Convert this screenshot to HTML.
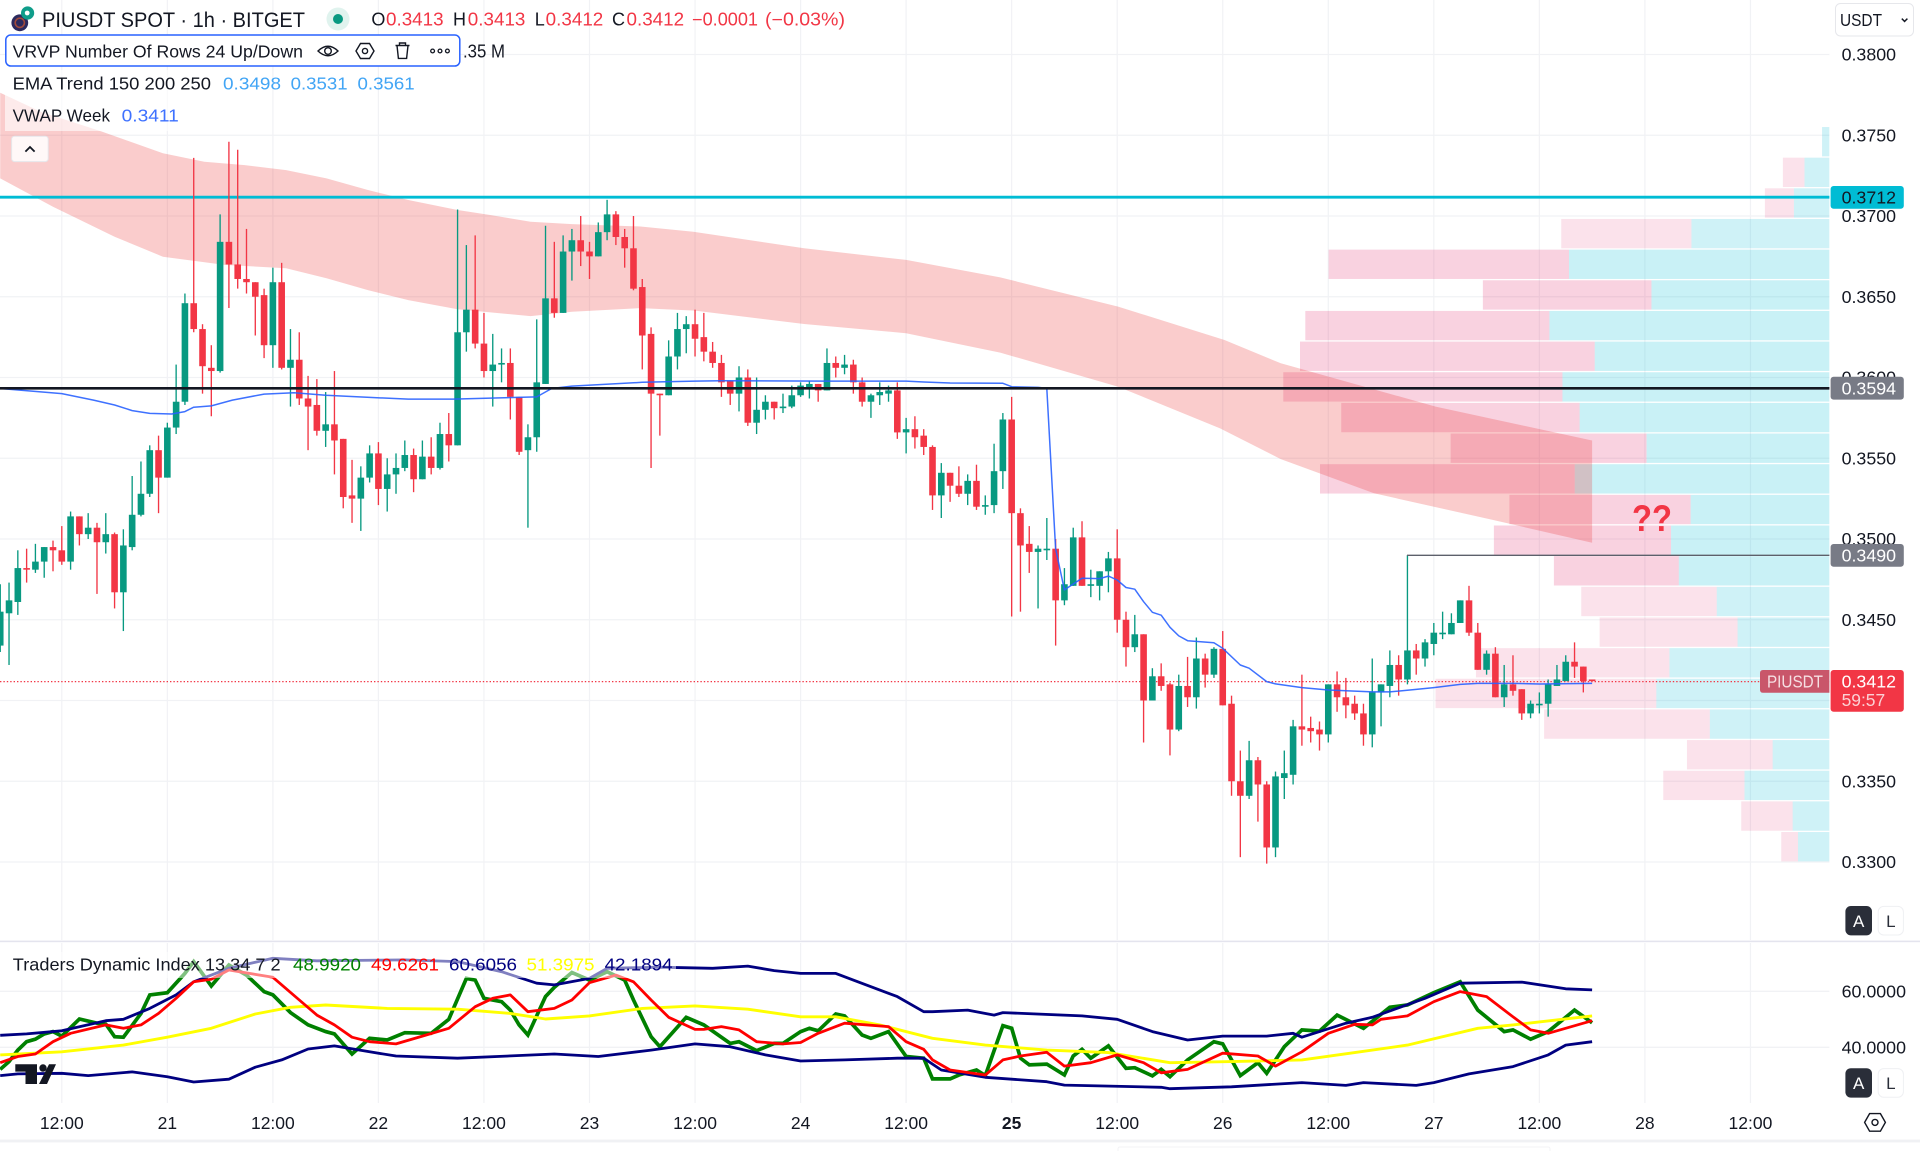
<!DOCTYPE html>
<html lang="en">
<head>
<meta charset="utf-8">
<title>PIUSDT SPOT 1h BITGET chart</title>
<style>
html,body{margin:0;padding:0;background:#fff;width:1920px;height:1151px;overflow:hidden}
svg{display:block;font-family:"Liberation Sans",sans-serif}
text{white-space:pre}
</style>
</head>
<body>
<svg id="chart" xmlns="http://www.w3.org/2000/svg" width="1920" height="1151" viewBox="0 0 1920 1151">
  <defs>
    <clipPath id="mainClip"><rect x="0" y="0" width="1829.4" height="941"/></clipPath>
    <clipPath id="tdiClip"><rect x="0" y="943" width="1829.4" height="160"/></clipPath>
  </defs>
  <rect x="0" y="0" width="1920" height="1151" fill="#ffffff"/>
  <g id="gridLayer"></g>
  <g id="vpLayer" clip-path="url(#mainClip)"></g>
  <g id="bandLayer" clip-path="url(#mainClip)"></g>
  <line x1="0" x2="1829.4" y1="197.2" y2="197.2" stroke="#00bcd4" stroke-width="2.9"/>
  <line x1="0" x2="1829.4" y1="681.6" y2="681.6" stroke="#f23645" stroke-width="1.2" stroke-dasharray="1.4 2"/>
  <g id="candleLayer" clip-path="url(#mainClip)"></g>
  <g id="vwapLayer" clip-path="url(#mainClip)"></g>
  <line x1="0" x2="1829.4" y1="388.3" y2="388.3" stroke="#131722" stroke-width="2.6"/>
  <line x1="1407" x2="1829.4" y1="555.3" y2="555.3" stroke="#5d606b" stroke-width="1.4"/>
  <text x="1632" y="531" font-size="37" font-weight="700" fill="#f23645" textLength="40" lengthAdjust="spacingAndGlyphs">??</text>

  <!-- Legend -->
  <rect x="5" y="70" width="180" height="61" fill="#ffffff" fill-opacity="0.6"/>
  <g>
    <circle cx="19.8" cy="22.8" r="8.4" fill="#2c2a5e"/>
    <circle cx="19.8" cy="22.8" r="4.6" fill="none" stroke="#a04a3c" stroke-width="1.6"/>
    <circle cx="27.6" cy="13" r="6.6" fill="#0f9d8a"/>
    <circle cx="27.2" cy="13" r="2.4" fill="#ffffff"/>
  </g>
  <text x="42" y="27" font-size="21" fill="#131722" textLength="263" lengthAdjust="spacingAndGlyphs">PIUSDT SPOT · 1h · BITGET</text>
  <ellipse cx="338" cy="19" rx="11.5" ry="11.5" fill="#e0f3ee"/>
  <circle cx="338" cy="19" r="5" fill="#089981"/>
  <g font-size="18">
    <text x="371.4" y="25.6" fill="#131722">O</text>
    <text x="386" y="25.6" fill="#f23645" textLength="57.6" lengthAdjust="spacingAndGlyphs">0.3413</text>
    <text x="453" y="25.6" fill="#131722">H</text>
    <text x="467.8" y="25.6" fill="#f23645" textLength="57.6" lengthAdjust="spacingAndGlyphs">0.3413</text>
    <text x="534.7" y="25.6" fill="#131722">L</text>
    <text x="545.7" y="25.6" fill="#f23645" textLength="57.6" lengthAdjust="spacingAndGlyphs">0.3412</text>
    <text x="612" y="25.6" fill="#131722">C</text>
    <text x="626.5" y="25.6" fill="#f23645" textLength="57.6" lengthAdjust="spacingAndGlyphs">0.3412</text>
    <text x="692" y="25.6" fill="#f23645" textLength="66" lengthAdjust="spacingAndGlyphs">−0.0001</text>
    <text x="765" y="25.6" fill="#f23645" textLength="80" lengthAdjust="spacingAndGlyphs">(−0.03%)</text>
  </g>
  <rect x="5.8" y="35" width="454" height="31" rx="5" fill="#ffffff" stroke="#2962ff" stroke-width="1.5"/>
  <text x="12.6" y="57.4" font-size="17.5" fill="#131722" textLength="290.4" lengthAdjust="spacingAndGlyphs">VRVP Number Of Rows 24 Up/Down</text>
  <g fill="none" stroke="#131722" stroke-width="1.4">
    <path d="M318 51 Q328 41.5 338 51 Q328 60.5 318 51Z"/><circle cx="328" cy="51" r="3.3"/>
  </g>
  <g fill="none" stroke="#131722" stroke-width="1.4">
    <path d="M360.5 43.5 H369.5 L374 51 L369.5 58.5 H360.5 L356 51Z"/><circle cx="365" cy="51" r="2.6"/>
  </g>
  <g fill="none" stroke="#131722" stroke-width="1.4">
    <path d="M395.5 45.5 H409.5 M399.5 45.5 V43 H405.5 V45.5 M397 45.5 L398.4 58.4 H406.6 L408 45.5"/>
  </g>
  <g fill="none" stroke="#131722" stroke-width="1.3">
    <circle cx="432.6" cy="51" r="1.9"/><circle cx="440" cy="51" r="1.9"/><circle cx="447.4" cy="51" r="1.9"/>
  </g>
  <text x="463" y="57.4" font-size="18" fill="#131722" textLength="42" lengthAdjust="spacingAndGlyphs">.35 M</text>
  <text x="12.6" y="89.4" font-size="17.5" fill="#131722" textLength="198.4" lengthAdjust="spacingAndGlyphs">EMA Trend 150 200 250</text>
  <text x="223" y="89.4" font-size="17.5" fill="#42a5f5" textLength="58" lengthAdjust="spacingAndGlyphs">0.3498</text>
  <text x="290.6" y="89.4" font-size="17.5" fill="#42a5f5" textLength="57" lengthAdjust="spacingAndGlyphs">0.3531</text>
  <text x="357.5" y="89.4" font-size="17.5" fill="#42a5f5" textLength="57.2" lengthAdjust="spacingAndGlyphs">0.3561</text>
  <text x="12.6" y="121.4" font-size="17.5" fill="#131722" textLength="97.4" lengthAdjust="spacingAndGlyphs">VWAP Week</text>
  <text x="121.6" y="121.4" font-size="17.5" fill="#2962ff" fill-opacity="0.9" textLength="57.2" lengthAdjust="spacingAndGlyphs">0.3411</text>
  <g>
    <rect x="11.6" y="136.2" width="36.6" height="25.4" rx="3" fill="#ffffff" fill-opacity="0.85" stroke="#e6e6ea" stroke-width="1"/>
    <path d="M25.4 151.6 L30 147 L34.6 151.6" fill="none" stroke="#131722" stroke-width="1.8"/>
  </g>

  <!-- Price axis -->
  <g id="priceAxis"></g>
  <g>
    <rect x="1835.5" y="3.5" width="78" height="32.5" rx="5" fill="#ffffff" stroke="#e6e7eb" stroke-width="1"/>
    <text x="1840" y="26" font-size="17.5" fill="#131722" textLength="42" lengthAdjust="spacingAndGlyphs">USDT</text>
    <path d="M1901.8 18.6 L1904.6 21.4 L1907.4 18.6" fill="none" stroke="#131722" stroke-width="1.5"/>
  </g>
  <g>
    <rect x="1830.6" y="186" width="73.2" height="22.8" rx="3" fill="#00bcd4"/>
    <text x="1841.6" y="203.6" font-size="17.5" fill="#131722" textLength="54.4" lengthAdjust="spacingAndGlyphs">0.3712</text>
  </g>
  <g>
    <rect x="1830.6" y="376.8" width="73.2" height="22.8" rx="3" fill="#787b86"/>
    <text x="1841.6" y="394.4" font-size="17.5" fill="#ffffff" textLength="54.4" lengthAdjust="spacingAndGlyphs">0.3594</text>
  </g>
  <g>
    <rect x="1830.6" y="544" width="73.2" height="22.8" rx="3" fill="#787b86"/>
    <text x="1841.6" y="561.6" font-size="17.5" fill="#ffffff" textLength="54.4" lengthAdjust="spacingAndGlyphs">0.3490</text>
  </g>
  <g>
    <path d="M1829.4 670 H1763 Q1760 670 1760 673 V689.8 Q1760 692.8 1763 692.8 H1829.4Z" fill="#c9566a"/>
    <text x="1767" y="687.6" font-size="17.5" fill="#f6dfe3" textLength="56" lengthAdjust="spacingAndGlyphs">PIUSDT</text>
  </g>
  <g>
    <rect x="1830.6" y="670" width="73.2" height="41.8" rx="3" fill="#f23645"/>
    <text x="1841.6" y="687.6" font-size="17.5" fill="#ffffff" textLength="54.4" lengthAdjust="spacingAndGlyphs">0.3412</text>
    <text x="1841.6" y="706" font-size="17.5" fill="#fbd0d4" textLength="43.6" lengthAdjust="spacingAndGlyphs">59:57</text>
  </g>
  <g>
    <rect x="1845.4" y="906" width="26.6" height="29.4" rx="5.5" fill="#2a2e39"/>
    <text x="1858.7" y="926.8" font-size="17" fill="#ffffff" text-anchor="middle">A</text>
  </g>
  <g>
    <rect x="1878.2" y="906.4" width="25.2" height="28.6" rx="5.5" fill="#ffffff" stroke="#eff0f3" stroke-width="1"/>
    <text x="1890.8" y="926.8" font-size="17" fill="#2a2e39" text-anchor="middle">L</text>
  </g>

  <!-- Pane separators -->
  <rect x="0" y="940.6" width="1920" height="1.6" fill="#e4e4ee"/>

  <!-- TDI pane -->
  <g id="tdiLayer" clip-path="url(#tdiClip)"></g>
  <rect x="8" y="952" width="668" height="26" fill="#ffffff" fill-opacity="0.5"/>
  <text x="12.8" y="970.4" font-size="17.5" fill="#131722" textLength="267.8" lengthAdjust="spacingAndGlyphs">Traders Dynamic Index 13 34 7 2</text>
  <text x="293" y="970.4" font-size="17.5" fill="#008000" textLength="68" lengthAdjust="spacingAndGlyphs">48.9920</text>
  <text x="371" y="970.4" font-size="17.5" fill="#ff0000" textLength="68" lengthAdjust="spacingAndGlyphs">49.6261</text>
  <text x="449" y="970.4" font-size="17.5" fill="#000080" textLength="68" lengthAdjust="spacingAndGlyphs">60.6056</text>
  <text x="526.5" y="970.4" font-size="17.5" fill="#ffff00" textLength="68" lengthAdjust="spacingAndGlyphs">51.3975</text>
  <text x="604.6" y="970.4" font-size="17.5" fill="#000080" textLength="68" lengthAdjust="spacingAndGlyphs">42.1894</text>
  <g fill="#131722">
    <polygon points="15.3,1064.3 37,1064.3 37,1084 25.5,1084 25.5,1071.6 15.3,1071.6"/>
    <circle cx="43" cy="1068" r="3.7"/>
    <polygon points="49,1064.3 56,1064.3 47,1084 39,1084"/>
  </g>
  <g id="tdiAxis"></g>
  <g>
    <rect x="1845.4" y="1068.2" width="26.6" height="29.4" rx="5.5" fill="#2a2e39"/>
    <text x="1858.7" y="1089" font-size="17" fill="#ffffff" text-anchor="middle">A</text>
  </g>
  <g>
    <rect x="1878.2" y="1068.6" width="25.2" height="28.6" rx="5.5" fill="#ffffff" stroke="#eff0f3" stroke-width="1"/>
    <text x="1890.8" y="1089" font-size="17" fill="#2a2e39" text-anchor="middle">L</text>
  </g>

  <!-- Time axis -->
  <g id="timeAxis"></g>
  <g fill="none" stroke="#131722" stroke-width="1.4">
    <path d="M1869.6 1113.6 H1880.4 L1885.4 1122.4 L1880.4 1131.2 H1869.6 L1864.6 1122.4Z"/><circle cx="1875" cy="1122.4" r="3"/>
  </g>
  <rect x="0" y="1139.6" width="1920" height="2.8" fill="#f0f1f4"/>
  <path d="M1118 1151 V1149 Q1118 1147 1120 1147 H1548 Q1550 1147 1550 1149 V1151" fill="none" stroke="#f3f3f6" stroke-width="1"/>
</svg>

<script>
// Prices are in units of 0.0001 USDT. Candle i is at hour (i + firstHour), hour 0 = 20th 12:00.
const firstHour = -7;
const opens = [3434,3454,3461,3482,3481,3486,3495,3493,3486,3514,
3503,3507,3498,3503,3467,3495,3515,3528,3555,3538,
3569,3585,3646,3630,3606,3604,3684,3670,3661,3659,
3651,3620,3659,3606,3611,3587,3583,3567,3571,3562,
3527,3525,3538,3553,3531,3540,3544,3552,3537,3551,
3544,3565,3558,3628,3642,3621,3604,3608,3609,3588,
3555,3563,3596,3649,3640,3678,3685,3678,3675,3690,
3701,3687,3680,3656,3627,3590,3589,3613,3630,3633,
3625,3616,3609,3598,3590,3600,3572,3580,3585,3581,
3582,3589,3594,3596,3592,3609,3606,3608,3597,3585,
3589,3590,3592,3566,3568,3564,3557,3527,3541,3533,
3528,3536,3520,3521,3542,3574,3516,3497,3492,3493,
3494,3462,3471,3501,3471,3471,3480,3488,3450,3433,
3441,3400,3415,3410,3382,3409,3402,3426,3416,3432,
3398,3350,3341,3363,3348,3309,3352,3354,3384,3383,
3382,3379,3410,3402,3398,3392,3379,3405,3409,3422,
3413,3431,3426,3435,3441,3441,3448,3462,3442,3419,
3429,3402,3410,3407,3392,3397,3398,3409,3412,3424,
3421,3413];
const highs = [3472,3473,3493,3494,3497,3495,3499,3508,3517,3514,
3516,3510,3516,3504,3506,3539,3548,3558,3564,3572,
3608,3652,3736,3633,3620,3701,3746,3741,3692,3659,
3655,3668,3671,3630,3628,3601,3599,3591,3604,3562,
3549,3545,3558,3560,3550,3553,3561,3556,3561,3563,
3572,3578,3704,3682,3688,3640,3627,3618,3618,3588,
3571,3636,3694,3684,3688,3692,3700,3684,3696,3710,
3703,3692,3700,3661,3631,3590,3623,3640,3638,3642,
3640,3622,3614,3598,3607,3605,3600,3589,3585,3590,
3595,3597,3598,3596,3618,3613,3614,3611,3600,3590,
3597,3595,3597,3575,3576,3568,3558,3547,3541,3545,
3540,3546,3527,3559,3578,3588,3519,3508,3496,3513,
3500,3482,3507,3511,3481,3480,3492,3506,3455,3453,
3441,3420,3423,3411,3416,3427,3439,3429,3433,3443,
3403,3369,3375,3365,3350,3356,3369,3388,3416,3390,
3387,3410,3418,3414,3403,3398,3426,3410,3431,3428,
3490,3435,3438,3448,3455,3454,3462,3471,3448,3431,
3433,3422,3428,3407,3400,3405,3413,3422,3428,3436,
3421,3413];
const lows = [3430,3422,3453,3473,3479,3476,3480,3484,3481,3496,
3500,3466,3491,3457,3443,3493,3514,3526,3516,3538,
3565,3583,3628,3590,3576,3603,3643,3655,3652,3626,
3612,3606,3605,3582,3583,3555,3564,3557,3540,3519,
3510,3505,3535,3521,3517,3528,3542,3529,3537,3540,
3543,3548,3558,3616,3618,3600,3582,3597,3574,3552,
3507,3554,3596,3637,3640,3660,3669,3661,3675,3685,
3682,3668,3654,3605,3544,3564,3589,3605,3615,3613,
3610,3606,3588,3583,3579,3570,3565,3574,3574,3578,
3581,3588,3587,3585,3592,3600,3602,3590,3582,3575,
3583,3585,3562,3553,3556,3552,3518,3513,3523,3526,
3521,3518,3515,3516,3531,3452,3455,3479,3457,3487,
3434,3459,3471,3471,3464,3462,3467,3442,3421,3430,
3374,3400,3406,3366,3381,3396,3395,3408,3414,3397,
3341,3303,3339,3325,3299,3303,3339,3348,3372,3374,
3369,3374,3393,3389,3388,3372,3371,3384,3402,3403,
3410,3416,3421,3428,3438,3441,3448,3440,3419,3416,
3402,3396,3403,3388,3389,3392,3390,3409,3412,3414,
3405,3412];
const closes = [3455,3462,3482,3481,3486,3495,3493,3486,3514,3503,
3507,3498,3503,3467,3496,3515,3528,3555,3538,3569,
3585,3646,3630,3607,3604,3684,3670,3661,3659,3650,
3620,3659,3606,3611,3587,3582,3567,3571,3561,3526,
3525,3538,3553,3531,3540,3544,3552,3537,3551,3544,
3565,3558,3628,3642,3621,3604,3608,3609,3588,3554,
3563,3597,3649,3640,3678,3685,3678,3675,3690,3701,
3687,3680,3655,3626,3590,3589,3613,3630,3633,3624,
3616,3609,3597,3590,3600,3572,3580,3585,3581,3582,
3589,3595,3596,3592,3609,3606,3608,3597,3585,3589,
3591,3592,3566,3568,3563,3557,3527,3541,3533,3528,
3536,3520,3521,3542,3574,3516,3496,3492,3494,3494,
3462,3472,3501,3471,3472,3480,3488,3450,3433,3441,
3400,3415,3409,3382,3409,3402,3426,3416,3432,3397,
3350,3341,3363,3348,3309,3353,3355,3384,3382,3381,
3379,3410,3402,3397,3392,3379,3405,3410,3422,3413,
3431,3426,3436,3442,3442,3448,3462,3442,3419,3429,
3402,3410,3406,3392,3398,3398,3410,3413,3424,3421,
3412,3412];

const vwapHours = [-7,0,3.6,6,8,10,12.5,14,15,17,19.4,23,26.4,30,35,39.4,44.5,54,55.7,58,66,72,75,87,96,98,101,107,108,111,112,113,114,116,118,119,120,121,122,123,124,125,126,127,128,131,132,134,135,137,138,141,144,146,149,151,154,156,159,161,165,168,174];
const vwapValues = [3593.2,3590,3586,3583,3579.5,3577.8,3577.4,3578.9,3581.6,3582.4,3586,3589.7,3590.6,3589,3587.7,3586.6,3586.6,3588,3593.2,3594.7,3597,3597.8,3598,3597.8,3597.8,3597.2,3596.6,3596.4,3594.3,3593.9,3593.3,3494,3468.5,3475.7,3475.5,3477,3474.6,3470,3468.9,3461.2,3454.6,3452.8,3445.3,3440,3437,3435.8,3432.3,3422,3420,3411.7,3410.3,3408,3406.5,3406,3405.3,3405.3,3406.9,3408,3410,3410.6,3410.6,3410.2,3410.6];

const emaUpperHours = [-7,-2.4,4.6,11.5,16.2,20.8,25.5,30.1,34.8,39.4,45,48.7,53.3,58,65.8,71.8,84.4,96,106.7,120.1,132.2,138.6,156.2,174];
const emaUpperValues = [3776.3,3764.6,3752.2,3738.8,3733.6,3731.5,3728.4,3723.3,3716.1,3709.9,3703.7,3700.6,3696.4,3695,3693.5,3690.3,3680,3672.8,3662,3643.9,3623.2,3608.8,3582,3561];
const emaLowerHours = [-7,-1,6,11.5,18.5,25.5,30.1,34.8,39.4,45,53.3,58,65.8,72,84.4,96,106.7,120.1,131.7,138.6,149.2,162.7,174];
const emaLowerValues = [3723.3,3705.7,3687.2,3674.8,3669.7,3667.7,3661.4,3654.1,3647.9,3642.2,3638,3640.7,3643,3641.4,3633.1,3627.4,3615.4,3594.3,3568.5,3549.5,3528.3,3511.8,3497.7];

// Volume profile rows, top row first (arbitrary volume units)
const vpUpVolume = [18,61,87,338,638,436,686,575,654,612,448,624,340,388,369,276,225,392,424,293,139,208,90,77];
const vpDownVolume = [0,53,71,319,589,413,598,722,684,584,480,624,444,434,306,332,338,474,541,406,210,199,126,41];
const vpValueAreaFirst = 4;
const vpValueAreaLast = 14;
const vpTopPrice = 3755.1;
const vpRowStep = 18.98;

const priceTicks = [3800,3750,3700,3650,3600,3550,3500,3450,3350,3300];
const gridPrices = [3800,3750,3700,3650,3600,3550,3500,3450,3400,3350,3300];
const timeTickHours = [0,12,24,36,48,60,72,84,96,108,120,132,144,156,168,180,192];
const timeTickLabels = ["12:00","21","12:00","22","12:00","23","12:00","24","12:00","25","12:00","26","12:00","27","12:00","28","12:00"];
const boldTimeLabel = "25";

const tdiTicks = [60,40];
const tdiGreenHours = [-7,-6,-5,-4,-3,-2,-1,0,2,4,5,6,7,9,10,12,14,15,17,19,21,23,24,26,28,30,31,33,35,37,39,42,44,46,47,48,50,51,52,53,55,56,58,60,62,64,65,67,68,71,73,76,77,79,81,82,84,85,86,88,89,91,92,94,96,98,99,101,102,104,105,107,108,109,110,112,114,115,116,117,119,121,122,124,125,126,128,131,132,134,136,137,139,141,143,145,148,151,153,156,159,161,164,165,167,169,172,174];
const tdiGreenValues = [32.1,34.9,39,42,42.9,44.8,45.6,44,50.1,48.6,48.3,43.8,43.6,52.1,58.7,59.5,66.4,70.6,61.9,69.4,65.8,59.9,58.7,52.4,48,45.6,44.8,37.6,43.2,42.6,45.2,45,50,64.6,64,57.5,56.3,53.3,48,44.4,58.1,61.4,66.7,64,67,64,56.9,43.8,40.2,50.7,48,41.4,42,38.8,41.4,41.4,45.6,46.8,45.9,51.9,51.2,44.4,43.2,45.6,36.7,36.1,28.7,28.7,30.1,31.9,29.9,47.7,46.8,36.1,33.7,34,30.1,36.9,39.3,36.1,40.5,32.5,32.7,29.8,32.1,29.5,35.5,42,41.2,29.9,34.5,30.7,40.2,46.2,45.8,51.5,46.8,54.3,55.1,59.5,63.4,53.3,45.6,46.2,42.9,45.6,53.3,48.8];
const tdiRedHours = [-7,-5,-3,-1,1,5,7,9,11,13,15,17,19,24,27,29,31,33,35,38,41,44,47,49,51,53,56,58,60,63,65,67,69,72,73,75,77,79,82,84,86,89,94,96,98,99,101,105,107,109,112,114,117,120,123,125,128,132,136,138,141,144,147,149,150,153,156,159,162,165,167,169,174];
const tdiRedValues = [34.5,36.7,37.6,42,45,48,46.8,48,52.1,57.5,63.4,64.3,67.6,65,56.9,51.5,48,43.6,42,41.2,44,46.8,54.5,57.5,58.7,52.7,53.9,56.9,63.1,65.8,63.4,56.9,50.7,46.4,46.4,47.4,46.2,42,41.2,41.7,45,48.6,47.4,42,39.3,35.5,31.9,30.1,35.5,36.9,38.2,33.3,34.5,37.3,34.5,30.9,32.1,37.9,36.9,33.3,38.4,45,48.2,48,50,51.2,56.3,59.9,58.1,50.9,46.2,45,49.5];
const tdiYellowHours = [-7,0,7,12,17,22,26,30,37,45,51,55,60,66,72,78,84,88,93,99,105,112,119,126,133,141,147,153,161,165,174];
const tdiYellowValues = [37.3,38.4,40.8,43.6,46.8,51.9,54.3,55.1,53.9,53.6,52.1,50.1,51.2,53.9,54.8,53.6,50.9,50.9,48,43.2,40.8,39,38.1,34.5,34.9,35.5,38.1,40.8,46.8,48,51.2];
const tdiUpperHours = [-7,-4,0,5,7,10,13,15,19,24,29,39,45,50,54,56,60,62,68,74,78,81,84,88,90,95,98,99,103,106,107,116,120,124,128,132,137,140,141,146,149,155,159,166,171,174];
const tdiUpperValues = [44.3,44.8,45.9,49.5,50,53.9,58.7,63.4,68.2,71.8,70.9,71.2,70.6,67,62.9,62.3,64.6,68.2,68.6,68.2,69,67.4,66.4,66.4,64,58.1,52.7,52.7,53.3,51.5,52.4,51.2,50,45.6,42.6,44,44,45,43.6,48.6,50.7,57.5,62.9,63.3,60.9,60.5];
const tdiLowerHours = [-7,-5,0,3,8,12,15,19,22,25,28,31,35,38,45,56,61,67,72,76,80,84,89,95,98,100,105,112,114,125,126,133,141,146,148,154,156,160,165,169,171,174];
const tdiLowerValues = [29.9,30.5,30.7,29.9,31.2,29.5,27.6,28.6,32.9,35.5,39.4,40.5,38.4,36.9,36.1,37.6,36.7,39,41.2,40.2,37.3,35.1,35.5,36.1,36.1,31.9,29.3,27.7,26.5,25.7,25.2,25.9,27.4,26.4,27.4,26.4,27.4,30.5,33.1,37.3,40.8,42];

const SVGNS = "http://www.w3.org/2000/svg";
function xAt(hour){ return 61.8 + hour * 8.795; }
function yAt(price){ return 54.5 + (3800 - price) * 1.615; }
function tdiY(value){ return 991.3 + (60 - value) * 2.8; }
function make(tag, attrs, parent){
  const el = document.createElementNS(SVGNS, tag);
  for (const k in attrs) el.setAttribute(k, attrs[k]);
  parent.appendChild(el);
  return el;
}
function linePoints(hours, values, yFn){
  return hours.map((h, i) => xAt(h).toFixed(1) + "," + yFn(values[i]).toFixed(1)).join(" ");
}

/* Grid */
const gridLayer = document.getElementById("gridLayer");
gridPrices.forEach(p => {
  const el = make("line", {x1:0, x2:1829.4, y1:yAt(p), y2:yAt(p), stroke:"#f1f2f5", "stroke-width":1.3}, gridLayer);
  
  
});
tdiTicks.forEach(v => {
  const el = make("line", {x1:0, x2:1829.4, y1:tdiY(v), y2:tdiY(v), stroke:"#f1f2f5", "stroke-width":1.3}, gridLayer);
  
  
});
timeTickHours.forEach(h => {
  const a = make("line", {x1:xAt(h), x2:xAt(h), y1:0, y2:940, stroke:"#f1f2f5", "stroke-width":1.2}, gridLayer);
  
  
  const b = make("line", {x1:xAt(h), x2:xAt(h), y1:943, y2:1103, stroke:"#f1f2f5", "stroke-width":1.2}, gridLayer);
  
  
});

/* Volume profile */
const vpLayer = document.getElementById("vpLayer");
const vpRight = 1829.4;
const vpUnit = 1 / 2.45;
vpUpVolume.forEach((up, i) => {
  const down = vpDownVolume[i];
  const inVA = i >= vpValueAreaFirst && i <= vpValueAreaLast;
  const top = yAt(vpTopPrice - i * vpRowStep);
  const bottom = yAt(vpTopPrice - (i + 1) * vpRowStep);
  const h = bottom - top - 1.3;
  const upW = up * vpUnit;
  const downW = down * vpUnit;
  const u = make("rect", {x:vpRight - upW, y:top, width:upW, height:h, fill:"rgb(0,188,212)", "fill-opacity":inVA ? 0.21 : 0.19}, vpLayer);
  
  
  if (down > 0) {
    const d = make("rect", {x:vpRight - upW - downW, y:top, width:downW, height:h, fill:"rgb(225,30,99)", "fill-opacity":inVA ? 0.2 : 0.13}, vpLayer);
    
    
  }
});

/* EMA band */
const bandLayer = document.getElementById("bandLayer");
const upperPts = linePoints(emaUpperHours, emaUpperValues, yAt);
const lowerPts = linePoints(emaLowerHours.slice().reverse(), emaLowerValues.slice().reverse(), yAt);
const band = make("polygon", {points: upperPts + " " + lowerPts, fill:"rgb(236,50,50)", "fill-opacity":0.25}, bandLayer);



/* Candles */
const candleLayer = document.getElementById("candleLayer");
const upColor = "#089981";
const downColor = "#f23645";
opens.forEach((o, i) => {
  const c = closes[i];
  const hour = i + firstHour;
  const x = xAt(hour);
  const col = c >= o ? upColor : downColor;
  const wick = make("line", {x1:x, x2:x, y1:yAt(highs[i]), y2:yAt(lows[i]), stroke:col, "stroke-width":1.35}, candleLayer);
  
  
  const top = yAt(Math.max(o, c));
  const bh = Math.max(yAt(Math.min(o, c)) - top, 1.6);
  const body = make("rect", {x:x - 3.3, y:top, width:6.6, height:bh, fill:col}, candleLayer);
  
  
});

/* VWAP */
const vwapLayer = document.getElementById("vwapLayer");
const vwapLine = make("polyline", {points: linePoints(vwapHours, vwapValues, yAt), fill:"none", stroke:"#2962ff", "stroke-width":1.5, "stroke-opacity":0.9, "stroke-linejoin":"round"}, vwapLayer);



/* TDI lines */
const tdiLayer = document.getElementById("tdiLayer");
const greenLine = make("polyline", {points: linePoints(tdiGreenHours, tdiGreenValues, tdiY), fill:"none", stroke:"#008000", "stroke-width":3.7, "stroke-linejoin":"miter"}, tdiLayer);


const upperLine = make("polyline", {points: linePoints(tdiUpperHours, tdiUpperValues, tdiY), fill:"none", stroke:"#000080", "stroke-width":2.8, "stroke-linejoin":"round"}, tdiLayer);


const lowerLine = make("polyline", {points: linePoints(tdiLowerHours, tdiLowerValues, tdiY), fill:"none", stroke:"#000080", "stroke-width":2.8, "stroke-linejoin":"round"}, tdiLayer);


const yellowLine = make("polyline", {points: linePoints(tdiYellowHours, tdiYellowValues, tdiY), fill:"none", stroke:"#ffff00", "stroke-width":2.9, "stroke-linejoin":"round"}, tdiLayer);


const redLine = make("polyline", {points: linePoints(tdiRedHours, tdiRedValues, tdiY), fill:"none", stroke:"#ff0000", "stroke-width":2.8, "stroke-linejoin":"round"}, tdiLayer);



/* Price axis labels */
const priceAxis = document.getElementById("priceAxis");
priceTicks.forEach(p => {
  const t = make("text", {x:1841.6, y:yAt(p) + 6.2, "font-size":17.5, fill:"#131722", textLength:54.4, lengthAdjust:"spacingAndGlyphs"}, priceAxis);
  t.textContent = (p / 10000).toFixed(4);
  
  
});

/* TDI axis labels */
const tdiAxis = document.getElementById("tdiAxis");
tdiTicks.forEach(v => {
  const t = make("text", {x:1841.6, y:tdiY(v) + 6.2, "font-size":17.5, fill:"#131722", textLength:64.4, lengthAdjust:"spacingAndGlyphs"}, tdiAxis);
  t.textContent = v.toFixed(4);
  
  
});

/* Time axis labels */
const timeAxis = document.getElementById("timeAxis");
timeTickHours.forEach((h, i) => {
  const label = timeTickLabels[i];
  const attrs = {x:xAt(h), y:1128.8, "font-size":17.5, fill:"#131722", "text-anchor":"middle"};
  if (label === boldTimeLabel) attrs["font-weight"] = "700";
  const t = make("text", attrs, timeAxis);
  t.textContent = label;
  
  
});
</script>
</body>
</html>
